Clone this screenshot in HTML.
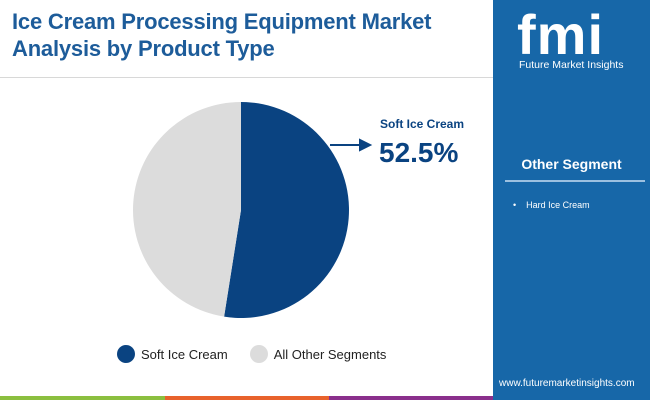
<!DOCTYPE html>
<html><head><meta charset="utf-8"><style>
body{margin:0;width:650px;height:400px;overflow:hidden;font-family:"Liberation Sans",sans-serif;background:#fff;position:relative}
.abs{position:absolute}
</style></head><body>
<div class="abs" style="left:12px;top:8px;font-size:22px;font-weight:bold;color:#1d5c9a;line-height:27px;width:470px;letter-spacing:-0.2px">Ice Cream Processing Equipment Market Analysis by Product Type</div>
<div class="abs" style="left:0;top:77px;width:493px;height:1px;background:#d8d8d8"></div>
<svg class="abs" style="left:0;top:0" width="493" height="396" id="pie"></svg>
<div class="abs" style="left:380px;top:117px;font-size:12px;font-weight:bold;color:#0a4381">Soft Ice Cream</div>
<div class="abs" style="left:379px;top:137px;font-size:28px;font-weight:bold;color:#0a4381">52.5%</div>
<div class="abs" style="left:117px;top:345px;font-size:13px;color:#222;display:flex;align-items:center">
<span style="width:18px;height:18px;border-radius:50%;background:#0a4381;display:inline-block;margin-right:6px"></span><span>Soft Ice Cream</span>
<span style="width:18px;height:18px;border-radius:50%;background:#dcdcdc;display:inline-block;margin:0 6px 0 22px"></span><span>All Other Segments</span>
</div>
<div class="abs" style="left:0;top:396px;width:165px;height:4px;background:#8bbf3f"></div>
<div class="abs" style="left:165px;top:396px;width:164px;height:4px;background:#e8622c"></div>
<div class="abs" style="left:329px;top:396px;width:164px;height:4px;background:#8a2f8c"></div>
<div class="abs" style="left:493px;top:0;width:157px;height:400px;background:#1767a8">
<div class="abs" style="left:24px;top:2px;font-size:56px;font-weight:bold;color:#fff;letter-spacing:1px">fmi</div>
<div class="abs" style="left:26px;top:59px;font-size:10.5px;color:#fff">Future Market Insights</div>
<div class="abs" style="left:0;width:157px;text-align:center;top:156px;font-size:14px;font-weight:bold;color:#fff">Other Segment</div>
<div class="abs" style="left:12px;top:180px;width:140px;height:2px;background:#9cc0e0"></div>
<div class="abs" style="left:20px;top:200px;font-size:9px;color:#fff">•&nbsp;&nbsp;&nbsp;&nbsp;Hard Ice Cream</div>
<div class="abs" style="left:6px;top:378px;font-size:10px;color:#fff">www.futuremarketinsights.com</div>
</div>
<script>
const categories=["Soft Ice Cream","All Other Segments"];
const values=[52.5,47.5];
const colors=["#0a4381","#dcdcdc"];
const svg=document.getElementById('pie');
const cx=241,cy=210,r=108;
const total=values.reduce((a,b)=>a+b,0);
let a0=-Math.PI/2;
values.forEach((v,i)=>{
 const a1=a0+v/total*2*Math.PI;
 const x0=cx+r*Math.cos(a0),y0=cy+r*Math.sin(a0),x1=cx+r*Math.cos(a1),y1=cy+r*Math.sin(a1);
 const p=document.createElementNS('http://www.w3.org/2000/svg','path');
 p.setAttribute('d',`M${cx},${cy}L${x0},${y0}A${r},${r} 0 ${a1-a0>Math.PI?1:0} 1 ${x1},${y1}Z`);
 p.setAttribute('fill',colors[i]);
 
 
 svg.appendChild(p);
 a0=a1;
});
const ln=document.createElementNS('http://www.w3.org/2000/svg','path');
ln.setAttribute('d','M330,145H366M360,140L370,145L360,150Z');
ln.setAttribute('stroke','#0a4381');ln.setAttribute('stroke-width','2');ln.setAttribute('fill','#0a4381');


svg.appendChild(ln);
</script>
</body></html>
